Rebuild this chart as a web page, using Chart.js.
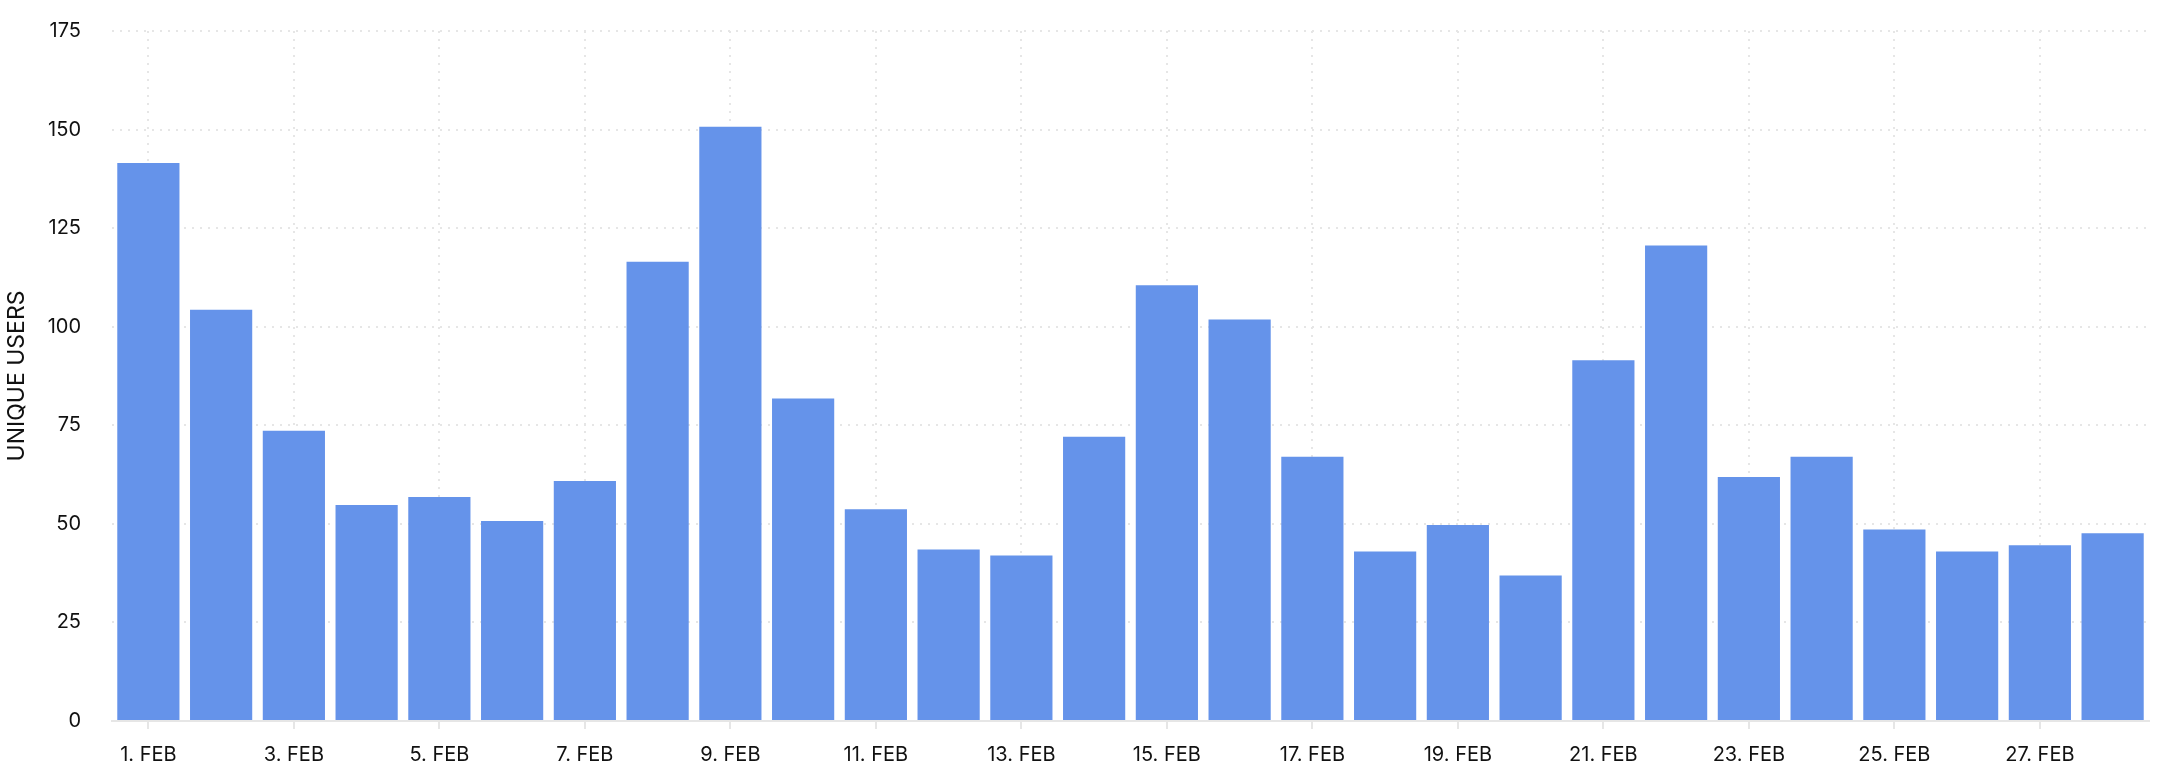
<!DOCTYPE html>
<html>
<head>
<meta charset="utf-8">
<script src="https://cdn.jsdelivr.net/npm/chart.js@4/dist/chart.umd.min.js"></script>
<style>
  html, body { margin: 0; padding: 0; background: #ffffff; }
  #wrap { position: relative; width: 2172px; height: 782px; }
</style>
</head>
<body>
<div id="wrap"><canvas id="c" width="2172" height="782"></canvas></div>
<script>
const categories = [
  "1. FEB", "2. FEB", "3. FEB", "4. FEB", "5. FEB", "6. FEB", "7. FEB",
  "8. FEB", "9. FEB", "10. FEB", "11. FEB", "12. FEB", "13. FEB", "14. FEB",
  "15. FEB", "16. FEB", "17. FEB", "18. FEB", "19. FEB", "20. FEB", "21. FEB",
  "22. FEB", "23. FEB", "24. FEB", "25. FEB", "26. FEB", "27. FEB", "28. FEB"
];
const uniqueUsers = [
  141.5, 104.3, 73.6, 54.8, 56.8, 50.7, 60.9,
  116.5, 150.7, 81.8, 53.7, 43.5, 42.0, 72.1,
  110.5, 101.8, 67.0, 43.0, 49.7, 36.9, 91.5,
  120.6, 61.9, 67.0, 48.6, 43.0, 44.6, 47.6
];
const yTicks = [0, 25, 50, 75, 100, 125, 150, 175];
const yTitle = "UNIQUE USERS";

Chart.defaults.font.family = "Inter, 'Noto Sans', sans-serif";
Chart.defaults.font.size = 20;
Chart.defaults.color = "#111111";

new Chart(document.getElementById("c"), {
  type: "bar",
  data: {
    labels: categories,
    datasets: [{
      label: yTitle,
      data: uniqueUsers,
      backgroundColor: "#6593ea",
      borderWidth: 0,
      categoryPercentage: 1.0,
      barPercentage: 0.855
    }]
  },
  options: {
    responsive: false,
    animation: false,
    layout: { padding: { top: 31, right: 23, left: 0, bottom: 0 } },
    plugins: { legend: { display: false }, tooltip: { enabled: false } },
    scales: {
      x: {
        offset: true,
        grid: {
          offset: false,
          color: "#e6e6e6",
          lineWidth: 2,
          tickLength: 8,
          tickColor: "#e6e6e6",
          tickWidth: 2
        },
        border: { display: true, color: "#e6e6e6", width: 2, dash: [2, 6] },
        ticks: {
          autoSkip: false,
          maxRotation: 0,
          padding: 14,
          color: "#111111",
          font: { size: 20 },
          callback: function (v, i) { return i % 2 === 0 ? categories[i] : null; }
        },
        afterFit: function (s) { s.height = 61; }
      },
      y: {
        min: yTicks[0],
        max: yTicks[yTicks.length - 1],
        afterBuildTicks: function (s) { s.ticks = yTicks.map(v => ({ value: v })); },
        grid: { color: "#e6e6e6", lineWidth: 2, drawTicks: false },
        border: { display: false, dash: [2, 6] },
        ticks: { padding: 31, color: "#111111", font: { size: 20 } },
        title: {
          display: true,
          text: yTitle,
          color: "#111111",
          font: { size: 23 },
          padding: { top: 3, bottom: 0 }
        },
        afterFit: function (s) { s.width = 112; s.paddingTop = 0; s.paddingBottom = 0; }
      }
    }
  }
});
</script>
</body>
</html>
